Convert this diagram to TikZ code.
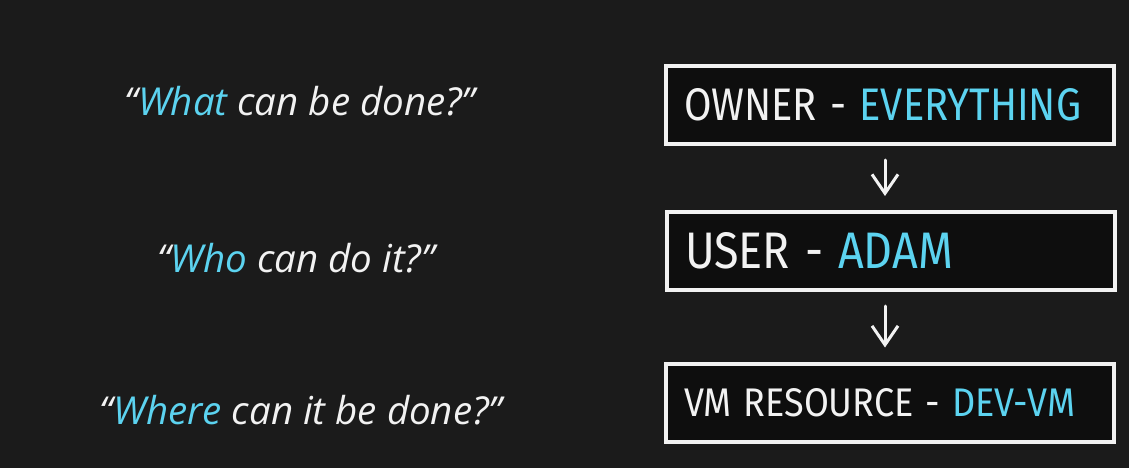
\documentclass[tikz,border=0pt]{standalone}
\usepackage{fontspec}
\usepackage{graphicx}
\setmainfont{Open Sans}
\newfontfamily\handfont{Fira Sans}
\usetikzlibrary{arrows.meta}
\definecolor{bgc}{HTML}{1B1B1B}
\definecolor{boxfill}{HTML}{0E0E0E}
\definecolor{cyantxt}{HTML}{5CD3F0}
\definecolor{whitetxt}{HTML}{F2F2F2}
\tikzset{
  x=1pt, y=-1pt,
  qtext/.style={font=\fontsize{38.5}{42}\selectfont\itshape, text=whitetxt, inner sep=0pt},
  rolebox/.style={draw=whitetxt, line width=4pt, fill=boxfill, minimum width=448pt, minimum height=78pt,
     inner xsep=18pt, inner ysep=0pt, text width=412pt, align=left, text=whitetxt, font=\handfont},
  flow/.style={draw=whitetxt, line width=3pt, line cap=round, line join=round,
     -{Straight Barb[length=19pt,width=26pt,line width=3pt]}, shorten <=14pt, shorten >=14pt}
}
\begin{document}
\begin{tikzpicture}
\fill[bgc] (0,0) rectangle (1129,468);
\useasboundingbox (0,0) rectangle (1129,468);

\node[qtext] (q1) at (300,101) {“\textcolor{cyantxt}{What} can be done?”};
\node[qtext] (q2) at (296,258) {“\textcolor{cyantxt}{Who} can do it?”};
\node[qtext] (q3) at (301,410) {“\textcolor{cyantxt}{Where} can it be done?”};

\node[rolebox] (b1) at (890,105) {\resizebox{397pt}{32pt}{OWNER - \textcolor{cyantxt}{EVERYTHING}}};
\node[rolebox] (b2) at (891,251) {\resizebox{268pt}{36pt}{USER - \textcolor{cyantxt}{ADAM}}};
\node[rolebox] (b3) at (890,402.5) {\raisebox{-4pt}{\resizebox{391pt}{28pt}{VM RESOURCE - \textcolor{cyantxt}{DEV-VM}}}};

\draw[flow] ([xshift=-5pt]b1.south) -- ([xshift=-6pt]b2.north);
\draw[flow] ([xshift=-6pt]b2.south) -- ([xshift=-5pt]b3.north);
\end{tikzpicture}
\end{document}
